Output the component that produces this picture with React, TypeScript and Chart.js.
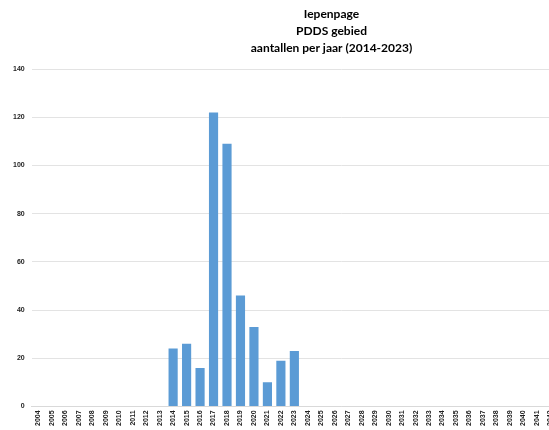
import React, { useEffect, useRef } from "react";
import { Chart, registerables } from "chart.js";

Chart.register(...registerables);

const years: string[] = [];
for (let y = 2004; y <= 2049; y++) years.push(String(y));

const dataYears = ["2014", "2015", "2016", "2017", "2018", "2019", "2020", "2021", "2022", "2023"];
const counts = [24, 26, 16, 122, 109, 46, 33, 10, 19, 23];

const titleLines = ["Iepenpage", "PDDS gebied", "aantallen per jaar (2014-2023)"];

export default function App() {
  const ref = useRef<HTMLCanvasElement>(null);
  useEffect(() => {
    if (!ref.current) return;
    const values = years.map((y) => {
      const i = dataYears.indexOf(y);
      return i >= 0 ? counts[i] : null;
    });
    const chart = new Chart(ref.current, {
      type: "bar",
      data: {
        labels: years,
        datasets: [
          {
            data: values,
            backgroundColor: "#5B9BD5",
            borderWidth: 0,
            barPercentage: 0.68,
            categoryPercentage: 1,
          },
        ],
      },
      options: {
        responsive: false,
        animation: false,
        layout: { padding: { left: 6, right: 0, top: 4, bottom: 0 } },
        plugins: {
          legend: { display: false },
          tooltip: { enabled: false },
          title: {
            display: true,
            text: titleLines,
            color: "#000000",
            font: { family: "Lato", size: 12, weight: "bold", lineHeight: 1.42 },
            padding: { top: 2, bottom: 12 },
          },
        },
        scales: {
          x: {
            grid: { display: false, drawTicks: false },
            border: { display: true, color: "#d9d9d9", width: 1 },
            ticks: {
              autoSkip: false,
              maxRotation: 90,
              minRotation: 90,
              padding: 4,
              color: "#222222",
              font: { family: "Liberation Sans", size: 7, weight: "bold" },
            },
          },
          y: {
            min: 0,
            max: 140,
            grid: { color: "#e3e3e3", drawTicks: false },
            border: { display: false },
            ticks: {
              stepSize: 20,
              padding: 7,
              color: "#222222",
              font: { family: "Liberation Sans", size: 7, weight: "bold" },
            },
          },
        },
      },
    });
    return () => chart.destroy();
  }, []);
  return (
    <div style={{ position: "fixed", left: 0, top: 0, width: 549, height: 430, overflow: "hidden", background: "#fff" }}>
      <canvas ref={ref} width={657} height={430} style={{ display: "block" }} />
    </div>
  );
}
